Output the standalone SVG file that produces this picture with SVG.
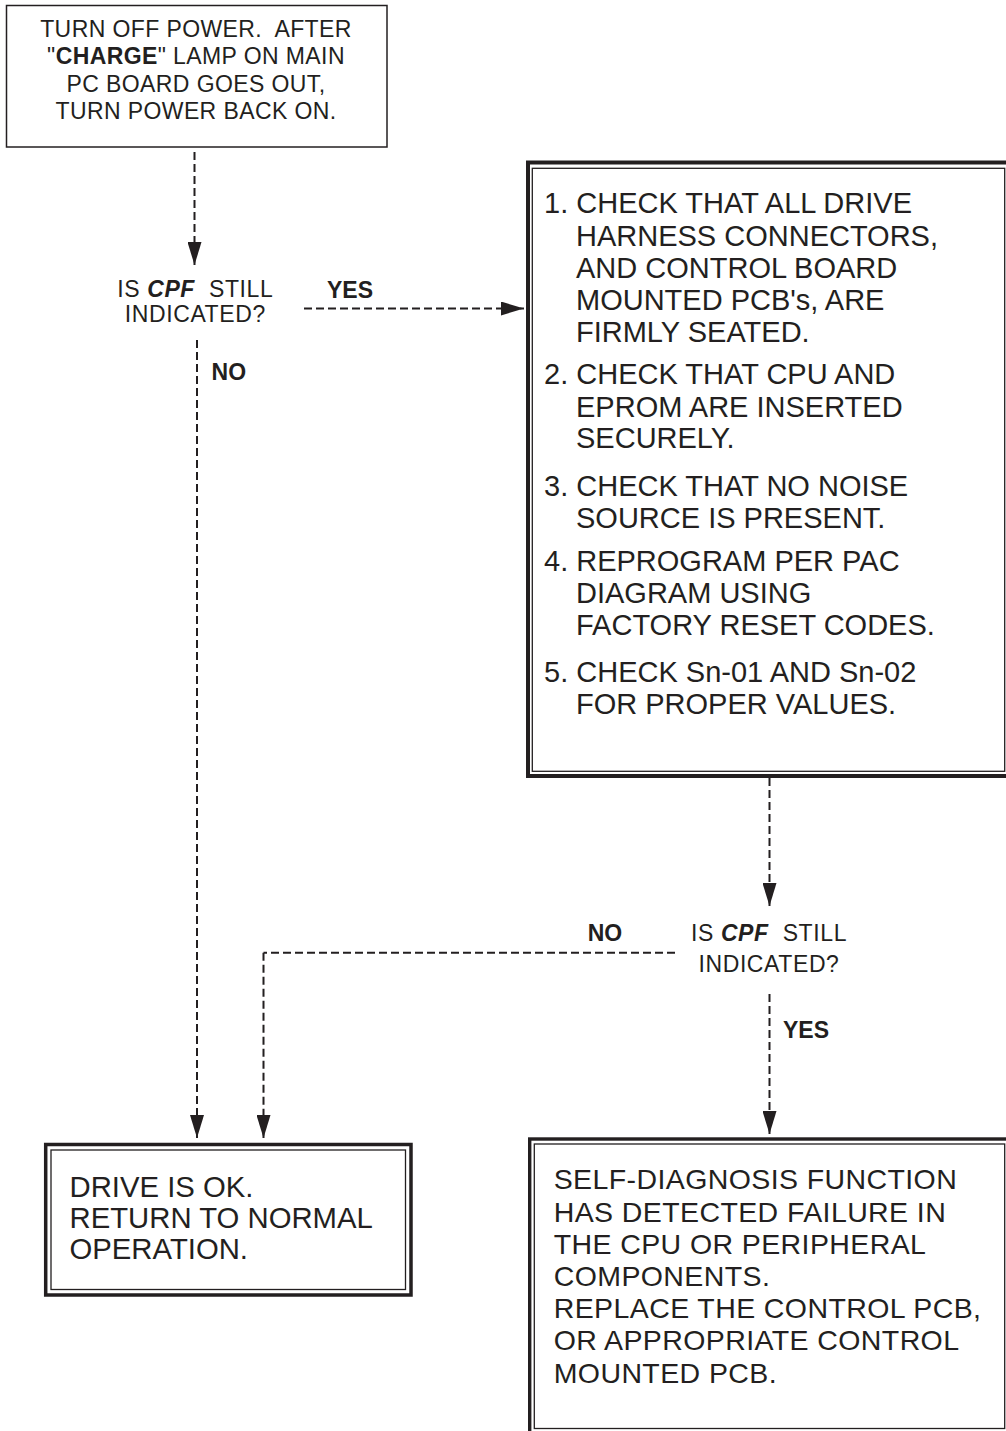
<svg xmlns="http://www.w3.org/2000/svg" width="1006" height="1431" viewBox="0 0 1006 1431">
  <style>
    text { font-family: "Liberation Sans", Arial, Helvetica, sans-serif; fill: #231f20; }
    .t-top { font-size: 23px; letter-spacing: 0.4px; text-anchor: middle; }
    .t-q { font-size: 23px; letter-spacing: 0.6px; text-anchor: middle; }
    .t-list { font-size: 29px; }
    .t-end { font-size: 28.5px; letter-spacing: 0.4px; }
    .t-ok { font-size: 29.3px; }
    .lbl { font-size: 23px; font-weight: bold; }
    .b { font-weight: bold; }
    .bi { font-weight: bold; font-style: italic; }
    .thin { fill: #fff; stroke: #231f20; stroke-width: 1.5; }
    .outer { fill: #fff; stroke: #231f20; stroke-width: 4; }
    .inner { fill: none; stroke: #231f20; stroke-width: 1.3; }
    .flow { fill: none; stroke: #231f20; stroke-width: 2; stroke-dasharray: 8 4; marker-end: url(#arrow); }
    .flow-plain { fill: none; stroke: #231f20; stroke-width: 2; stroke-dasharray: 8 4; }
  </style>
  <defs>
    <marker id="arrow" markerUnits="userSpaceOnUse" markerWidth="24" markerHeight="14" refX="23" refY="7" orient="auto">
      <path d="M0,0 L23,7 L0,14 Z" fill="#231f20"/>
    </marker>
  </defs>

  <rect width="1006" height="1431" fill="#fff"/>

  <!-- connectors -->
  <g id="connectors">
    <path class="flow" d="M194.5,152 V265"/>
    <path class="flow" d="M304,308.5 H524"/>
    <path class="flow" d="M197,340 V1138"/>
    <path class="flow" d="M769.5,778 V906"/>
    <path class="flow-plain" d="M675,952.7 H263.5"/>
    <path class="flow" d="M263.5,952.7 V1138"/>
    <path class="flow" d="M769.5,994 V1134"/>
  </g>

  <!-- start: power cycle -->
  <g id="power-cycle">
    <rect class="thin" x="6.5" y="5.5" width="380.5" height="141.5"/>
    <text class="t-top" x="196" y="36.7" xml:space="preserve">TURN OFF POWER.  AFTER</text>
    <text class="t-top" x="196" y="64.3">"<tspan class="b">CHARGE</tspan>" LAMP ON MAIN</text>
    <text class="t-top" x="196" y="91.7">PC BOARD GOES OUT,</text>
    <text class="t-top" x="196" y="119">TURN POWER BACK ON.</text>
  </g>

  <!-- first decision -->
  <g id="decision-1">
    <text class="t-q" x="195.3" y="296.7" xml:space="preserve">IS <tspan class="bi">CPF</tspan>  STILL</text>
    <text class="t-q" x="195.3" y="321.7">INDICATED?</text>
    <text class="lbl" x="327" y="298.3">YES</text>
    <text class="lbl" x="211.6" y="380">NO</text>
  </g>

  <!-- checklist -->
  <g id="checklist">
    <rect class="outer" x="528" y="162.5" width="490" height="613.5"/>
    <rect class="inner" x="532.3" y="168.3" width="472.4" height="603"/>
    <text class="t-list" x="544" y="213.3">1. CHECK THAT ALL DRIVE</text>
    <text class="t-list" x="576" y="245.7">HARNESS CONNECTORS,</text>
    <text class="t-list" x="576" y="277.7">AND CONTROL BOARD</text>
    <text class="t-list" x="576" y="310">MOUNTED PCB's, ARE</text>
    <text class="t-list" x="576" y="342.3">FIRMLY SEATED.</text>
    <text class="t-list" x="544" y="384.3">2. CHECK THAT CPU AND</text>
    <text class="t-list" x="576" y="416.7">EPROM ARE INSERTED</text>
    <text class="t-list" x="576" y="448.3">SECURELY.</text>
    <text class="t-list" x="544" y="496">3. CHECK THAT NO NOISE</text>
    <text class="t-list" x="576" y="527.5">SOURCE IS PRESENT.</text>
    <text class="t-list" x="544" y="570.7">4. REPROGRAM PER PAC</text>
    <text class="t-list" x="576" y="602.7">DIAGRAM USING</text>
    <text class="t-list" x="576" y="635">FACTORY RESET CODES.</text>
    <text class="t-list" x="544" y="681.7">5. CHECK Sn-01 AND Sn-02</text>
    <text class="t-list" x="576" y="714">FOR PROPER VALUES.</text>
  </g>

  <!-- second decision -->
  <g id="decision-2">
    <text class="t-q" x="769" y="941" xml:space="preserve">IS <tspan class="bi">CPF</tspan>  STILL</text>
    <text class="t-q" x="769" y="972">INDICATED?</text>
    <text class="lbl" x="587.7" y="941">NO</text>
    <text class="lbl" x="783" y="1038.4">YES</text>
  </g>

  <!-- outcome: drive OK -->
  <g id="drive-ok">
    <rect class="outer" x="45.7" y="1144.5" width="365.3" height="150.5" style="stroke-width:3.5"/>
    <rect class="inner" x="51" y="1150" width="354.5" height="139.5"/>
    <text class="t-ok" x="69.5" y="1196.7">DRIVE IS OK.</text>
    <text class="t-ok" x="69.5" y="1227.7">RETURN TO NORMAL</text>
    <text class="t-ok" x="69.5" y="1259">OPERATION.</text>
  </g>

  <!-- outcome: replace control PCB -->
  <g id="replace-pcb">
    <rect class="outer" x="529.7" y="1139" width="490" height="310" style="stroke-width:3.4"/>
    <rect class="inner" x="534.3" y="1144" width="470.4" height="284.5"/>
    <text class="t-end" x="553.7" y="1189.3">SELF-DIAGNOSIS FUNCTION</text>
    <text class="t-end" x="553.7" y="1221.5">HAS DETECTED FAILURE IN</text>
    <text class="t-end" x="553.7" y="1253.7">THE CPU OR PERIPHERAL</text>
    <text class="t-end" x="553.7" y="1285.9">COMPONENTS.</text>
    <text class="t-end" x="553.7" y="1318.1">REPLACE THE CONTROL PCB,</text>
    <text class="t-end" x="553.7" y="1350.3">OR APPROPRIATE CONTROL</text>
    <text class="t-end" x="553.7" y="1382.5">MOUNTED PCB.</text>
  </g>
</svg>
